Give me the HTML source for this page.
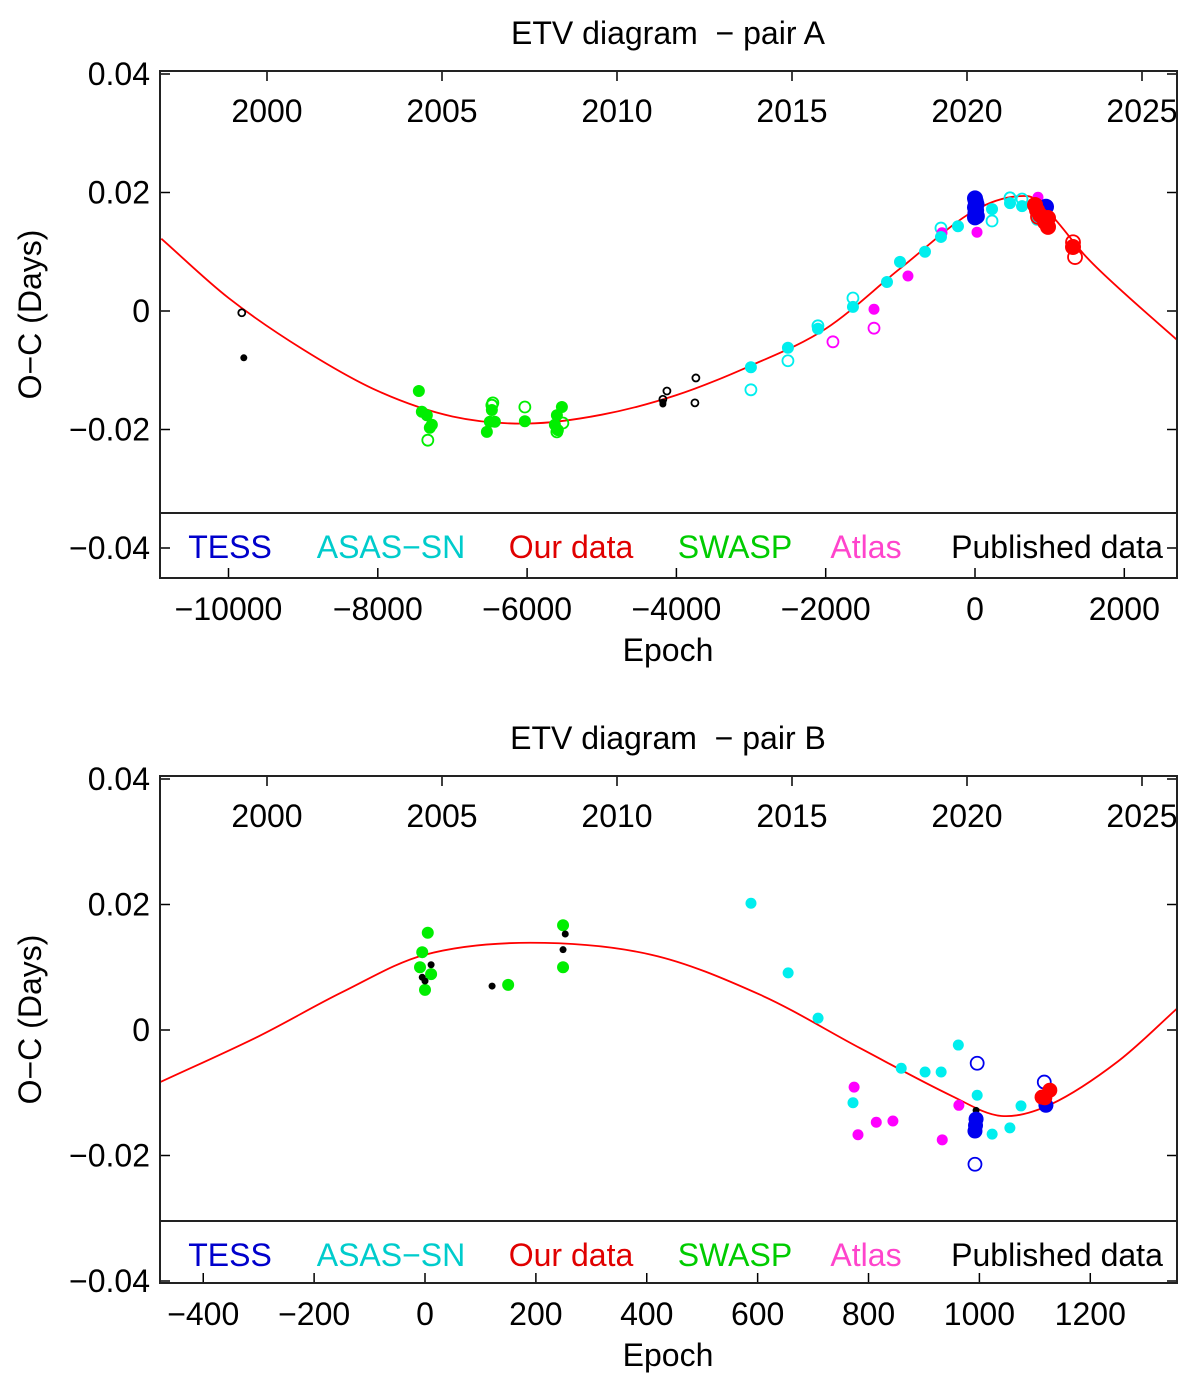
<!DOCTYPE html>
<html><head><meta charset="utf-8"><style>
body{margin:0;background:#fff;}
svg text{font-family:"Liberation Sans",sans-serif;white-space:pre;}
</style></head><body>
<svg id="c" width="1200" height="1381" xmlns="http://www.w3.org/2000/svg"></svg>
<script>
// ---- Panel A data ----
const aCurveE=[-10900,-10000,-9000,-8000,-7000,-6000,-5000,-4000,-3000,-2000,-1000,0,700,1000,1500,2000,2700];
const aCurveO=[0.0122,0.0022,-0.0065,-0.0135,-0.0178,-0.0190,-0.0175,-0.0142,-0.0092,-0.0030,0.0072,0.0170,0.0194,0.0165,0.0090,0.0030,-0.0048];
const aGreenFE=[-7450,-7410,-7343,-7276,-7303,-6499,-6472,-6432,-6539,-6030,-5534,-5601,-5628,-5588];
const aGreenFO=[-0.0135,-0.0170,-0.0176,-0.0192,-0.0197,-0.0187,-0.0167,-0.0187,-0.0204,-0.0186,-0.0162,-0.0176,-0.0192,-0.0201];
const aGreenOE=[-7330,-6459,-6472,-6030,-5521,-5601];
const aGreenOO=[-0.0218,-0.0155,-0.0159,-0.0162,-0.0189,-0.0204];
const aBlackFE=[-9795,-4181,-4181];
const aBlackFO=[-0.0079,-0.0157,-0.0154];
const aBlackOE=[-9822,-4127,-4181,-3739,-3752];
const aBlackOO=[-0.0003,-0.0135,-0.0149,-0.0113,-0.0155];
const aCyanFE=[-3002,-2506,-2104,-1635,-1179,-1005,-670,-456,-228,228,469,630,831];
const aCyanFO=[-0.0095,-0.0062,-0.0030,0.0007,0.0049,0.0083,0.0100,0.0125,0.0143,0.0172,0.0182,0.0177,0.0154];
const aCyanOE=[-3002,-2506,-2104,-1635,-456,228,469,630];
const aCyanOO=[-0.0133,-0.0084,-0.0025,0.0022,0.0140,0.0152,0.0191,0.0189];
const aMagFE=[-898,-1353,-442,27,844];
const aMagFO=[0.0059,0.0003,0.0132,0.0133,0.0192];
const aMagOE=[-1903,-1353];
const aMagOO=[-0.0052,-0.0029];
const aBlueFE=[0,10,20,0,15,5,25,0,951];
const aBlueFO=[0.0190,0.0185,0.0180,0.0175,0.0170,0.0165,0.0160,0.0158,0.0176];
const aRedFE=[804,831,871,938,978,978,1313];
const aRedFO=[0.0179,0.0170,0.0162,0.0150,0.0157,0.0142,0.0108];
const aRedOE=[844,1313,1340];
const aRedOO=[0.0159,0.0116,0.0091];
// ---- Panel B data ----
const bCurveE=[-480,-300,-150,0,190,408,605,785,950,1040,1130,1250,1360];
const bCurveO=[-0.0084,-0.0010,0.0060,0.0120,0.0139,0.0120,0.0056,-0.0029,-0.0105,-0.0137,-0.0118,-0.0050,0.0037];
const bGreenE=[5,-5,-9,11,0,150,249,249];
const bGreenO=[0.0155,0.0124,0.0100,0.0089,0.0064,0.0072,0.0167,0.0100];
const bBlackE=[11,-5,0,121,253,249,994];
const bBlackO=[0.0104,0.0084,0.0078,0.0070,0.0153,0.0128,-0.0128];
const bCyanE=[588,655,709,772,859,902,931,962,996,1023,1055,1075];
const bCyanO=[0.0202,0.0091,0.0019,-0.0116,-0.0061,-0.0067,-0.0067,-0.0024,-0.0104,-0.0166,-0.0156,-0.0121];
const bMagE=[774,781,814,844,963,933];
const bMagO=[-0.0091,-0.0167,-0.0147,-0.0145,-0.0120,-0.0175];
const bBlueOE=[996,992,1117];
const bBlueOO=[-0.0053,-0.0214,-0.0083];
const bBlueFE=[994,992,993,1120];
const bBlueFO=[-0.0142,-0.0161,-0.0152,-0.0120];
const bRedE=[1118,1127,1113];
const bRedO=[-0.0108,-0.0096,-0.0107];
const yTickVals=[0.04,0.02,0,-0.02,-0.04];
const yTickLabels=["0.04","0.02","0","\u22120.02","\u22120.04"];
const yearLabels=["2000","2005","2010","2015","2020","2025"];
const aXTicks=[-10000,-8000,-6000,-4000,-2000,0,2000];
const bXTicks=[-400,-200,0,200,400,600,800,1000,1200];
const legendNames=["TESS","ASAS\u2212SN","Our data","SWASP","Atlas","Published data"];

const NS="http://www.w3.org/2000/svg";
const svg=document.getElementById('c');
const FS=32;
function mk(tag,at,parent){const e=document.createElementNS(NS,tag);for(const k in at)e.setAttribute(k,at[k]);(parent||svg).appendChild(e);return e;}
function fmt(v){return v<0?'\u2212'+Math.abs(v):String(v);}

function panel(o){
  const g=mk('g',{});
  
  
  const L=160,R=1177,T=o.top,B=o.bottom;
  const X=e=>o.x0+o.xs*e, Y=v=>o.y0-o.ys*v;
  const t=mk('text',{x:668,y:T-27,'text-anchor':'middle','font-size':FS},g);t.textContent=o.title;
  
  const yl=mk('text',{x:0,y:0,'text-anchor':'middle','font-size':FS,transform:`translate(41,${(T+B)/2-10}) rotate(-90)`},g);yl.textContent='O\u2212C (Days)';
  
  const xl=mk('text',{x:668,y:B+83,'text-anchor':'middle','font-size':FS},g);xl.textContent='Epoch';
  
  yTickVals.forEach((v,i)=>{const y=Y(v);
    mk('line',{x1:L,x2:L+10,y1:y,y2:y,stroke:'#000','stroke-width':1.5},g);
    mk('line',{x1:R-10,x2:R,y1:y,y2:y,stroke:'#000','stroke-width':1.5},g);
    const tx=mk('text',{x:150,y:y+11,'text-anchor':'end','font-size':FS},g);tx.textContent=yTickLabels[i];
    });
  yearLabels.forEach((s,i)=>{const x=267+175*i;
    mk('line',{x1:x,x2:x,y1:T,y2:T+10,stroke:'#000','stroke-width':1.5},g);
    const tx=mk('text',{x:x,y:T+51,'text-anchor':'middle','font-size':FS},g);tx.textContent=s;
    });
  o.xt.forEach(v=>{const x=X(v);
    mk('line',{x1:x,x2:x,y1:B-10,y2:B,stroke:'#000','stroke-width':1.5},g);
    const tx=mk('text',{x:x,y:B+42,'text-anchor':'middle','font-size':FS},g);tx.textContent=fmt(v);
    });
  const cid='clip'+o.name;const cp=mk('clipPath',{id:cid},g);mk('rect',{x:L,y:T,width:R-L,height:o.leg-T},cp);
  const pg=mk('g',{'clip-path':`url(#${cid})`},g);
  const P=o.cE.map((e,i)=>[X(e),Y(o.cO[i])]);const n=P.length;
  const m=P.map((p,i)=>{const a=P[Math.max(0,i-1)],b=P[Math.min(n-1,i+1)];return (b[1]-a[1])/(b[0]-a[0]);});
  let d=`M${P[0][0]},${P[0][1]}`;
  for(let i=0;i<n-1;i++){const dx=(P[i+1][0]-P[i][0])/3;
    d+=` C${P[i][0]+dx},${P[i][1]+m[i]*dx} ${P[i+1][0]-dx},${P[i+1][1]-m[i+1]*dx} ${P[i+1][0]},${P[i+1][1]}`;}
  const cu=mk('path',{d:d,fill:'none',stroke:'#ff0000','stroke-width':1.8},pg);
  
  o.series.forEach(s=>{s.E.forEach((e,i)=>{
    const c=mk('circle',{cx:X(e),cy:Y(s.O[i]),r:s.r,fill:s.open?'none':s.c,stroke:s.c,'stroke-width':s.open?1.8:0},pg);
    });});
  mk('line',{x1:L,x2:R,y1:o.leg,y2:o.leg,stroke:'#222','stroke-width':2},g);
  mk('rect',{x:L,y:T,width:R-L,height:B-T,fill:'none',stroke:'#222','stroke-width':2},g);
  const lc=['#0000cc','#00cccc','#e00000','#00cc00','#ff44cc','#000'];const lx=[230,391,571,735,866,1057];
  legendNames.forEach((n,i)=>{const tx=mk('text',{x:lx[i],y:o.leg+45,'text-anchor':'middle','font-size':FS,fill:lc[i]},g);tx.textContent=n;
    });
}
panel({name:'pair-a',title:'ETV diagram  \u2212 pair A',top:71,bottom:578,leg:513,x0:975,xs:0.07465,y0:311,ys:5925,xt:aXTicks,cE:aCurveE,cO:aCurveO,
 series:[
  {n:'swasp',E:aGreenOE,O:aGreenOO,c:'#00ee00',r:5.5,open:true},
  {n:'swasp',E:aGreenFE,O:aGreenFO,c:'#00ee00',r:6},
  {n:'published',E:aBlackOE,O:aBlackOO,c:'#000',r:3.5,open:true},
  {n:'published',E:aBlackFE,O:aBlackFO,c:'#000',r:3.5},
  {n:'asas-sn',E:aCyanOE,O:aCyanOO,c:'#00eeee',r:5.5,open:true},
  {n:'atlas',E:aMagOE,O:aMagOO,c:'#ff00ff',r:5.5,open:true},
  {n:'atlas',E:aMagFE,O:aMagFO,c:'#ff00ff',r:5.5},
  {n:'asas-sn',E:aCyanFE,O:aCyanFO,c:'#00eeee',r:6},
  {n:'tess',E:aBlueFE,O:aBlueFO,c:'#0000ee',r:8},
  {n:'our-data',E:aRedOE,O:aRedOO,c:'#ff0000',r:7,open:true},
  {n:'our-data',E:aRedFE,O:aRedFO,c:'#ff0000',r:8}]});
panel({name:'pair-b',title:'ETV diagram  \u2212 pair B',top:776,bottom:1283,leg:1221,x0:425,xs:0.5544,y0:1030,ys:6275,xt:bXTicks,cE:bCurveE,cO:bCurveO,
 series:[
  {n:'swasp',E:bGreenE,O:bGreenO,c:'#00ee00',r:6},
  {n:'published',E:bBlackE,O:bBlackO,c:'#000',r:3.5},
  {n:'asas-sn',E:bCyanE,O:bCyanO,c:'#00eeee',r:5.5},
  {n:'atlas',E:bMagE,O:bMagO,c:'#ff00ff',r:5.5},
  {n:'tess',E:bBlueOE,O:bBlueOO,c:'#0000ee',r:6.5,open:true},
  {n:'tess',E:bBlueFE,O:bBlueFO,c:'#0000ee',r:7.5},
  {n:'our-data',E:bRedE,O:bRedO,c:'#ff0000',r:7.5}]});
</script>
</body></html>
